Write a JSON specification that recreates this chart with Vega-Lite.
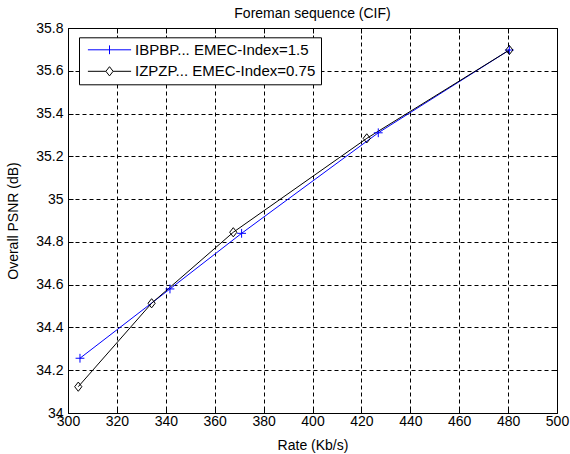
{
  "$schema": "https://vega.github.io/schema/vega-lite/v6.json",
  "width": 489,
  "height": 385,
  "autosize": {"type": "none"},
  "padding": {"left": 68, "top": 28, "right": 13, "bottom": 41},
  "background": "white",
  "title": {
    "text": "Foreman sequence (CIF)",
    "font": "Liberation Sans",
    "fontSize": 14,
    "fontWeight": "normal",
    "color": "black",
    "anchor": "middle",
    "frame": "group",
    "offset": 0
  },
  "data": {
    "values": [
      {"series": "IBPBP... EMEC-Index=1.5", "rate": 304.9, "psnr": 34.256},
      {"series": "IBPBP... EMEC-Index=1.5", "rate": 341.7, "psnr": 34.58},
      {"series": "IBPBP... EMEC-Index=1.5", "rate": 371.0, "psnr": 34.84},
      {"series": "IBPBP... EMEC-Index=1.5", "rate": 426.9, "psnr": 35.31},
      {"series": "IBPBP... EMEC-Index=1.5", "rate": 480.5, "psnr": 35.697},
      {"series": "IZPZP... EMEC-Index=0.75", "rate": 304.2, "psnr": 34.123},
      {"series": "IZPZP... EMEC-Index=0.75", "rate": 334.2, "psnr": 34.513},
      {"series": "IZPZP... EMEC-Index=0.75", "rate": 367.6, "psnr": 34.845},
      {"series": "IZPZP... EMEC-Index=0.75", "rate": 422.2, "psnr": 35.284},
      {"series": "IZPZP... EMEC-Index=0.75", "rate": 480.5, "psnr": 35.697}
    ]
  },
  "layer": [
    {
      "mark": {"type": "line", "strokeWidth": 1},
      "encoding": {
        "x": {
          "field": "rate",
          "type": "quantitative",
          "scale": {"domain": [300, 500], "nice": false, "zero": false},
          "axis": {
            "orient": "bottom",
            "values": [300, 320, 340, 360, 380, 400, 420, 440, 460, 480, 500],
            "format": "d",
            "title": "Rate (Kb/s)",
            "grid": true,
            "labelFlush": false,
            "labelPadding": 6,
            "titleY": 25,
            "titleBaseline": "top"
          }
        },
        "y": {
          "field": "psnr",
          "type": "quantitative",
          "scale": {"domain": [34, 35.8], "nice": false, "zero": false},
          "axis": {
            "orient": "left",
            "values": [34, 34.2, 34.4, 34.6, 34.8, 35, 35.2, 35.4, 35.6, 35.8],
            "format": "~g",
            "title": "Overall PSNR (dB)",
            "grid": true,
            "labelPadding": 10,
            "titleX": -54.5,
            "titleY": 192.5,
            "titleBaseline": "middle",
            "titleAngle": -90
          }
        },
        "color": {
          "field": "series",
          "type": "nominal",
          "scale": {
            "domain": ["IBPBP... EMEC-Index=1.5", "IZPZP... EMEC-Index=0.75"],
            "range": ["#0000ff", "#000000"]
          },
          "legend": {
            "title": null,
            "orient": "none",
            "legendX": 11,
            "legendY": 9.3,
            "padding": 5,
            "strokeColor": "black",
            "fillColor": "white",
            "cornerRadius": 0,
            "symbolSize": 64,
            "symbolStrokeWidth": 1,
            "symbolOffset": 18,
            "labelOffset": 18,
            "rowPadding": 5.5,
            "labelFont": "Liberation Sans",
            "labelFontSize": 15,
            "labelColor": "black",
            "labelLimit": 400,
            "encode": {
              "symbols": {
                "update": {
                  "shape": {"signal": "datum.value === 'IBPBP... EMEC-Index=1.5' ? 'M-5.4,0H5.4M0,-1.1V1.1' : 'M-5.4,0H-0.9M0.9,0H5.4M0,-1.15L0.9,0L0,1.15L-0.9,0Z'"},
                  "fill": {"value": "transparent"},
                  "strokeWidth": {"value": 1},
                  "size": {"value": 64}
                }
              }
            }
          }
        }
      }
    },
    {
      "transform": [{"filter": "datum.series === 'IBPBP... EMEC-Index=1.5'"}],
      "mark": {
        "type": "point",
        "shape": "M-1.1,0H1.1M0,-1.1V1.1",
        "size": 64,
        "filled": false,
        "stroke": "#0000ff",
        "strokeWidth": 1,
        "opacity": 1
      },
      "encoding": {
        "x": {
          "field": "rate",
          "type": "quantitative",
          "axis": {
            "orient": "top",
            "values": [300, 320, 340, 360, 380, 400, 420, 440, 460, 480, 500],
            "labels": false,
            "grid": false,
            "title": null
          }
        },
        "y": {
          "field": "psnr",
          "type": "quantitative",
          "axis": {
            "orient": "right",
            "values": [34, 34.2, 34.4, 34.6, 34.8, 35, 35.2, 35.4, 35.6, 35.8],
            "labels": false,
            "grid": false,
            "title": null
          }
        }
      }
    },
    {
      "transform": [{"filter": "datum.series === 'IZPZP... EMEC-Index=0.75'"}],
      "mark": {
        "type": "point",
        "shape": "M0,-1.15L0.9,0L0,1.15L-0.9,0Z",
        "size": 64,
        "filled": false,
        "stroke": "#000000",
        "strokeWidth": 1,
        "opacity": 1
      },
      "encoding": {
        "x": {"field": "rate", "type": "quantitative", "axis": null},
        "y": {"field": "psnr", "type": "quantitative", "axis": null}
      }
    }
  ],
  "resolve": {"axis": {"x": "independent", "y": "independent"}},
  "config": {
    "view": {"stroke": "#000000", "strokeWidth": 1},
    "axis": {
      "domain": false,
      "labelFont": "Liberation Sans",
      "labelFontSize": 14,
      "labelColor": "black",
      "tickColor": "black",
      "tickSize": -5,
      "tickWidth": 1,
      "gridColor": "black",
      "gridDash": [4, 3],
      "gridOpacity": 1,
      "gridWidth": 1,
      "titleFont": "Liberation Sans",
      "titleFontSize": 14,
      "titleFontWeight": "normal",
      "titleColor": "black"
    }
  }
}
